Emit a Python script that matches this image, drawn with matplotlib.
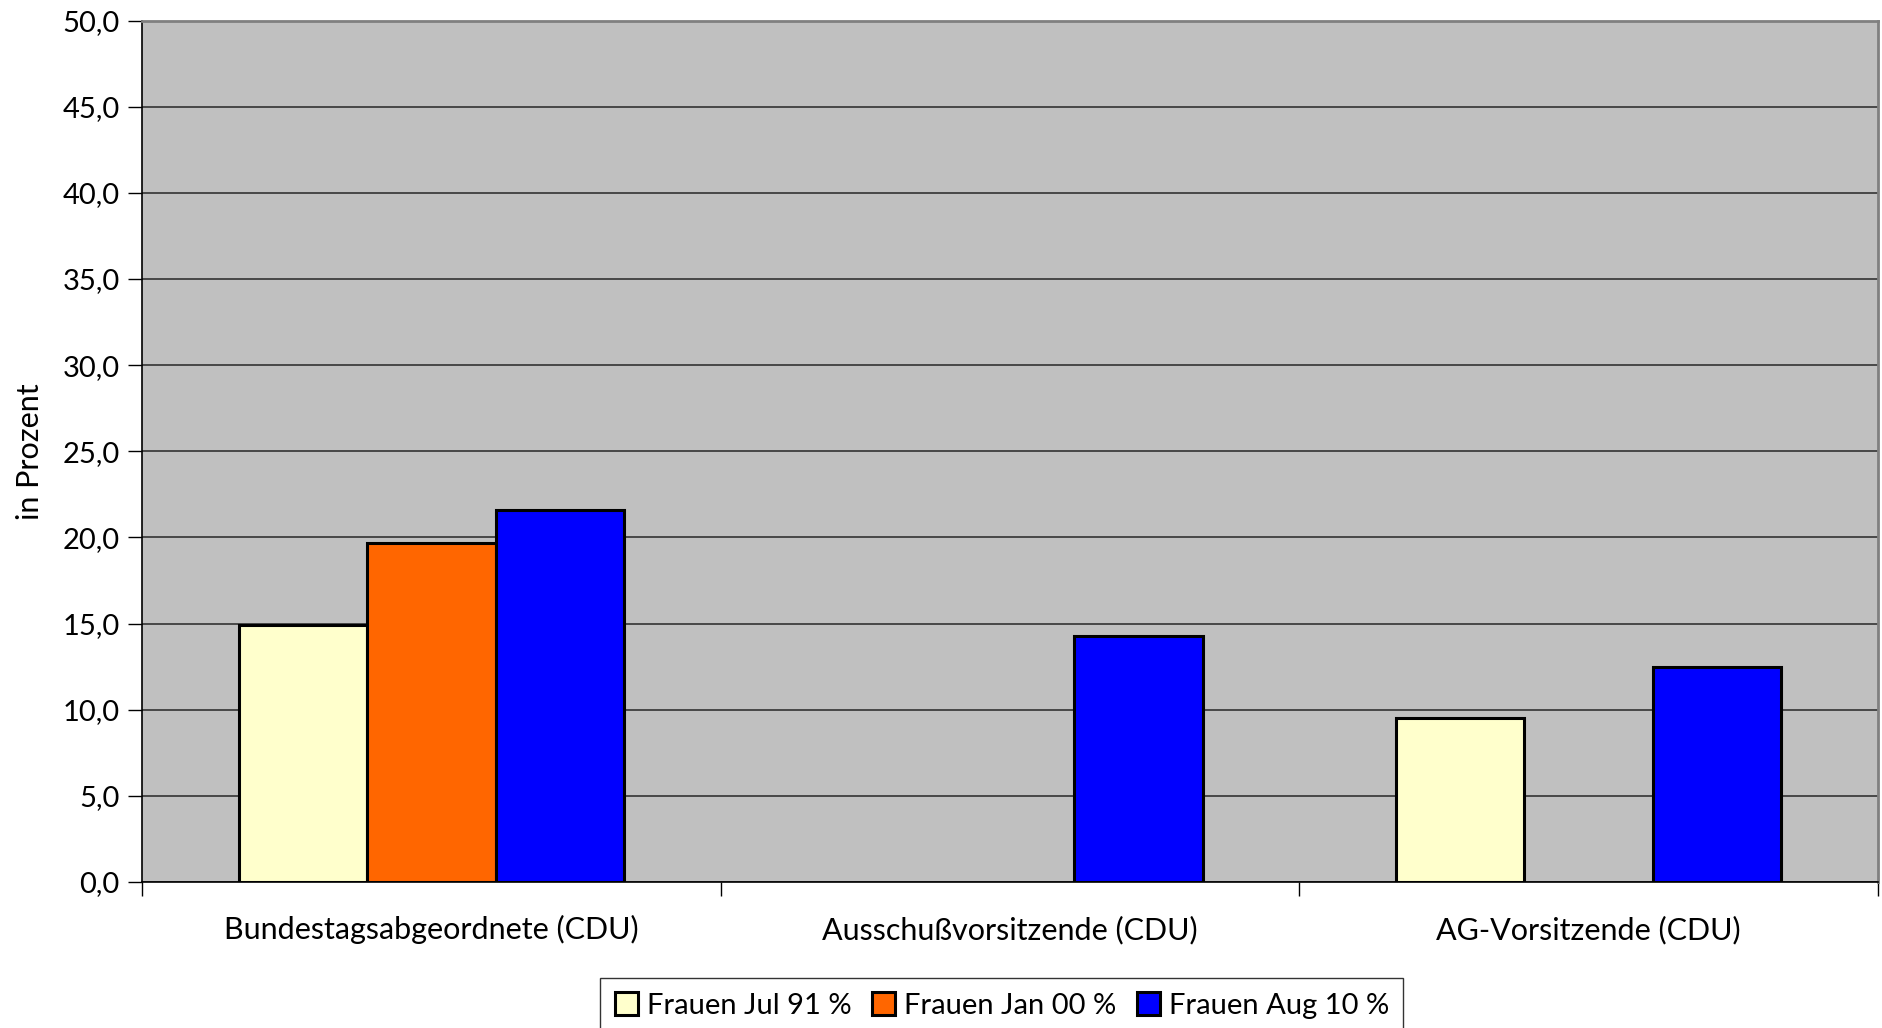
import numpy as np
import matplotlib.pyplot as plt
from matplotlib.ticker import FuncFormatter

categories = ['Bundestagsabgeordnete (CDU)', 'Ausschußvorsitzende (CDU)', 'AG-Vorsitzende (CDU)']
series_names = ['Frauen Jul 91 %', 'Frauen Jan 00 %', 'Frauen Aug 10 %']
jul_91 = [14.9, np.nan, 9.5]
jan_00 = [19.7, np.nan, np.nan]
aug_10 = [21.6, 14.3, 12.5]
colors = ['#FFFFCC', '#FF6600', '#0000FF']

plt.rcParams['font.family'] = ['Lato', 'DejaVu Sans']

fig = plt.figure(figsize=(18.83, 10.28), dpi=100)
ax = fig.add_axes([0.0754, 0.142, 0.9219, 0.838])
ax.set_facecolor('#C0C0C0')

x = np.arange(len(categories))
w = 0.222
for i, (vals, name) in enumerate(zip([jul_91, jan_00, aug_10], series_names)):
    ax.bar(x + (i - 1) * w, vals, width=w, color=colors[i], edgecolor='black',
           linewidth=2.2, label=name, zorder=3)

ax.set_ylim(0, 50)
ax.set_yticks(np.arange(0, 50.1, 5))
ax.yaxis.set_major_formatter(FuncFormatter(lambda v, p: f'{v:.1f}'.replace('.', ',')))
ax.grid(axis='y', color='#333333', linewidth=1.2, zorder=1)
ax.set_axisbelow(True)

ax.set_xlim(-0.5, 2.5)
ax.set_xticks(x)
ax.set_xticklabels(categories)
ax.set_xticks([-0.5, 0.5, 1.5, 2.5], minor=True)
ax.tick_params(axis='x', which='major', length=0, pad=24, labelsize=22)
ax.tick_params(axis='x', which='minor', length=10, width=1, color='black')
ax.tick_params(axis='y', length=10, width=1, labelsize=21, pad=6)

for side in ['top', 'right']:
    ax.spines[side].set_color('#808080')
    ax.spines[side].set_linewidth(2)
for side in ['left', 'bottom']:
    ax.spines[side].set_color('black')
    ax.spines[side].set_linewidth(1.2)

fig.text(0.016, 0.561, 'in Prozent', rotation=90, va='center', ha='center', fontsize=22)

# legend sits at the lower edge and is cut off there, as in the original
leg = fig.legend(loc='upper center', bbox_to_anchor=(0.532, 0.063), ncol=3,
                 fontsize=21, frameon=True, fancybox=False, edgecolor='black',
                 handlelength=0.8, handleheight=0.8, handletextpad=0.3,
                 columnspacing=0.7, borderpad=0.5)
leg.get_frame().set_linewidth(1)

fig.savefig('out.png', dpi=100)
